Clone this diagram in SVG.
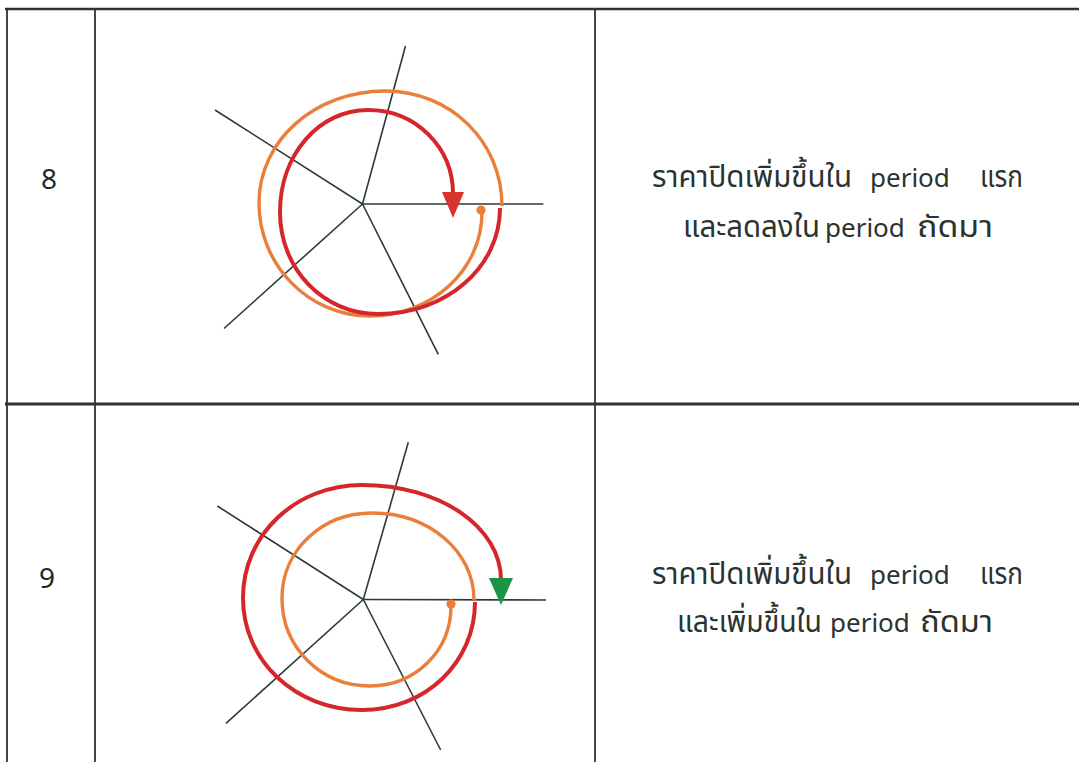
<svg xmlns="http://www.w3.org/2000/svg" width="1079" height="762" viewBox="0 0 1079 762">
<style>
.grid{stroke:#2b3531;fill:none}
.ax{stroke:#2c3a35;stroke-width:1.6;fill:none}
.red{stroke:#d5262b;stroke-width:4;fill:none}
.org{stroke:#ea7f3b;stroke-width:3.4;fill:none}
.num{font-family:"Noto Sans","DejaVu Sans",sans-serif;font-size:28px;fill:#1f2a26;text-anchor:middle}
.th{font-family:"Noto Sans Thai","Noto Sans","DejaVu Sans",sans-serif;font-size:30px;fill:#2a332f}
.en{font-family:"Noto Sans","DejaVu Sans",sans-serif;font-size:26px;fill:#2a332f}
</style>
<rect width="1079" height="762" fill="#ffffff"/>
<g id="table">
<line class="grid" x1="5" y1="9" x2="1079" y2="9" stroke-width="2.5"/>
<line class="grid" x1="5" y1="404" x2="1079" y2="404" stroke-width="3"/>
<line class="grid" x1="7" y1="9" x2="7" y2="762" stroke-width="1.8"/>
<line class="grid" x1="95" y1="9" x2="95" y2="762" stroke-width="1.8"/>
<line class="grid" x1="595" y1="9" x2="595" y2="762" stroke-width="1.8"/>
</g>
<g id="row8-number"><text class="num" x="49" y="189">8</text></g>
<g id="row8-chart">
<g class="ax">
<line x1="362.5" y1="204" x2="405.5" y2="46"/>
<line x1="362.5" y1="204" x2="215" y2="110"/>
<line x1="362.5" y1="204" x2="224" y2="328.5"/>
<line x1="362.5" y1="204" x2="438.3" y2="354.3"/>
<line x1="362.5" y1="204" x2="543.3" y2="204"/>
</g>
<path class="org" d="M482,212 C482,270.2 431.7,316 370,316 C308.5,316 259,265.3 259,203 C259,140 315.4,91 385,91 C450.5,91 502,141.6 502,206"/>
<path class="red" d="M500,208 C500,267.4 446.3,314 378,314 C323.1,314 280,269.1 280,212 C280,154.9 318.7,110 368,110 C415.6,110 453,147 453,194"/>
<polygon points="442,192 464,192 453,218" fill="#d8352a"/>
<circle cx="481" cy="210" r="4.6" fill="#ea7f3b"/>
</g>
<g id="row8-text">
<text class="th" x="652" y="187" textLength="200" lengthAdjust="spacingAndGlyphs">ราคาปิดเพิ่มขึ้นใน</text>
<text class="en" x="870" y="187">period</text>
<text class="th" x="980" y="187" textLength="43" lengthAdjust="spacingAndGlyphs">แรก</text>
<text class="th" x="683" y="236.5" textLength="137" lengthAdjust="spacingAndGlyphs">และลดลงใน</text>
<text class="en" x="825" y="236.5">period</text>
<text class="th" x="917" y="236.5" textLength="76" lengthAdjust="spacingAndGlyphs">ถัดมา</text>
</g>
<g id="row9-number"><text class="num" x="47" y="588">9</text></g>
<g id="row9-chart">
<g class="ax">
<line x1="363.3" y1="599.5" x2="408.3" y2="442.3"/>
<line x1="363.3" y1="599.5" x2="217.3" y2="506"/>
<line x1="363.3" y1="599.5" x2="226" y2="723.3"/>
<line x1="363.3" y1="599.5" x2="440.7" y2="750"/>
<line x1="363.3" y1="599.5" x2="546" y2="600"/>
</g>
<path class="org" d="M451,606 C451,650.8 415.4,686 370,686 C320.7,686 282,647.3 282,598 C282,550.4 321.6,513 372,513 C429.1,513 474,551.3 474,600"/>
<path class="red" d="M475,602 C475,662.5 425.3,710 362,710 C295.4,710 243,660.7 243,598 C243,534.7 295.4,485 362,485 C439.8,485 501,526.8 501,580"/>
<polygon points="489,578 513,578 501,605" fill="#1a9447"/>
<circle cx="451" cy="604" r="4.6" fill="#ea7f3b"/>
</g>
<g id="row9-text">
<text class="th" x="652" y="583.5" textLength="200" lengthAdjust="spacingAndGlyphs">ราคาปิดเพิ่มขึ้นใน</text>
<text class="en" x="870" y="583.5">period</text>
<text class="th" x="980" y="583.5" textLength="43" lengthAdjust="spacingAndGlyphs">แรก</text>
<text class="th" x="677" y="631.5" textLength="145" lengthAdjust="spacingAndGlyphs">และเพิ่มขึ้นใน</text>
<text class="en" x="830" y="631.5">period</text>
<text class="th" x="920" y="631.5" textLength="73" lengthAdjust="spacingAndGlyphs">ถัดมา</text>
</g>
</svg>
